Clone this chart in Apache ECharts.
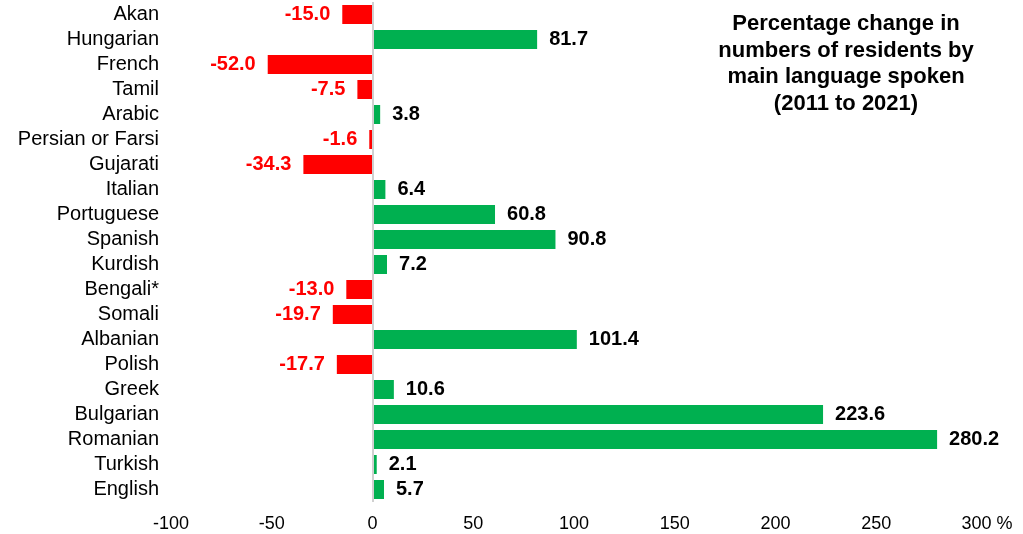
<!DOCTYPE html>
<html>
<head>
<meta charset="utf-8">
<script src="https://cdn.jsdelivr.net/npm/echarts@6/dist/echarts.min.js"></script>
<style>
html,body{margin:0;padding:0;background:#fff;}
#chart{width:1023px;height:534px;}
</style>
</head>
<body>
<div id="chart"></div>
<script>
const categories = ["Akan","Hungarian","French","Tamil","Arabic","Persian or Farsi","Gujarati","Italian","Portuguese","Spanish","Kurdish","Bengali*","Somali","Albanian","Polish","Greek","Bulgarian","Romanian","Turkish","English"];
const values = [-15.0,81.7,-52.0,-7.5,3.8,-1.6,-34.3,6.4,60.8,90.8,7.2,-13.0,-19.7,101.4,-17.7,10.6,223.6,280.2,2.1,5.7];
const xTicks = [-100,-50,0,50,100,150,200,250,300];
const titleText = "Percentage change in\nnumbers of residents by\nmain language spoken\n(2011 to 2021)";

const FONT = "'Liberation Sans', Arial, sans-serif";
const GREEN = "#00B050", RED = "#FF0000";

const barData = values.map(v => ({
  value: v,
  itemStyle: { color: v < 0 ? RED : GREEN },
  label: { position: v < 0 ? 'left' : 'right', color: v < 0 ? RED : '#000' }
}));

const chart = echarts.init(document.getElementById('chart'));
chart.setOption({
  animation: false,
  title: {
    text: titleText,
    left: 841, top: 6, textAlign: 'center',
    textStyle: { fontFamily: FONT, fontSize: 22, fontWeight: 'bold', color: '#000', lineHeight: 26.5 }
  },
  grid: { left: 171, right: 46, top: 2, bottom: 32, containLabel: false },
  xAxis: {
    type: 'value', min: xTicks[0], max: xTicks[xTicks.length-1], interval: 50,
    axisLine: { show: false }, axisTick: { show: false }, splitLine: { show: false },
    axisLabel: {
      fontFamily: FONT, fontSize: 18, color: '#000', margin: 13,
      formatter: v => v === 300 ? '{p|' + v + ' %}' : String(v),
      rich: { p: { fontFamily: FONT, fontSize: 18, color: '#000', padding: [0,0,0,20] } }
    }
  },
  yAxis: {
    type: 'category', data: categories, inverse: true,
    axisLine: { show: false }, axisTick: { show: false },
    axisLabel: { interval: 0, hideOverlap: false, fontFamily: FONT, fontSize: 20, color: '#000', margin: 12 }
  },
  series: [{
    type: 'bar', data: barData, barWidth: 19,
    label: {
      show: true, distance: 12, fontFamily: FONT, fontSize: 20, fontWeight: 'bold',
      formatter: p => p.value.toFixed(1)
    },
    markLine: {
      silent: true, symbol: 'none', label: { show: false },
      lineStyle: { color: '#d0d0d0', type: 'solid', width: 2 },
      data: [{ xAxis: 0 }]
    }
  }]
});
</script>
</body>
</html>
